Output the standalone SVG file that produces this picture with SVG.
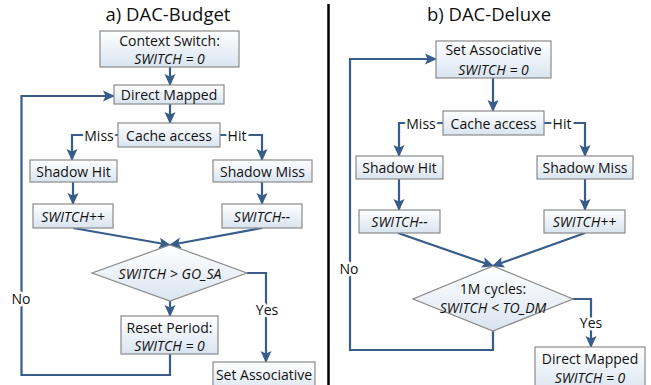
<svg xmlns="http://www.w3.org/2000/svg" width="651" height="385" viewBox="0 0 651 385">
  <defs>
    <linearGradient id="boxFill" x1="0" y1="0" x2="0" y2="1">
      <stop offset="0" stop-color="#ffffff"/>
      <stop offset="1" stop-color="#d9e4f0"/>
    </linearGradient>
    <marker id="arrow" markerUnits="userSpaceOnUse" markerWidth="12" markerHeight="12" viewBox="0 0 12 12" refX="11" refY="6" orient="auto">
      <path d="M0,0.5 L12,6 L0,11.5 L2.5,6 Z" fill="#385d8a"/>
    </marker>
    <style>
      .box { fill: url(#boxFill); stroke: #8a8a8a; stroke-width: 1.2; }
      .dia { fill: url(#boxFill); stroke: #8a8a8a; stroke-width: 1.2; }
      .t { font-family: "Open Sans", "Liberation Sans", sans-serif; font-size: 14px; fill: #111; text-anchor: middle; dominant-baseline: central; }
      .i { font-style: italic; }
      .title { font-family: "Open Sans", "Liberation Sans", sans-serif; font-size: 18.5px; fill: #111; text-anchor: middle; }
      .lbl { font-family: "Open Sans", "Liberation Sans", sans-serif; font-size: 14px; fill: #111; text-anchor: middle; dominant-baseline: central; stroke: #ffffff; stroke-width: 5; paint-order: stroke; stroke-linejoin: round; }
      .c { fill: none; stroke: #385d8a; stroke-width: 2.2; }
    </style>
  </defs>

  <rect width="651" height="385" fill="#ffffff"/>

  <!-- panel divider -->
  <line x1="328.5" y1="4" x2="328.5" y2="385" stroke="#000" stroke-width="2.5"/>

  <!-- titles -->
  <text class="title" x="168" y="21">a) DAC-Budget</text>
  <text class="title" x="489" y="21">b) DAC-Deluxe</text>

  <!-- connectors -->
  <g id="connectors">
    <!-- a) DAC-Budget -->
    <path class="c" d="M170,67 V85" marker-end="url(#arrow)"/>
    <path class="c" d="M170,104 V123" marker-end="url(#arrow)"/>
    <path class="c" d="M118,135 H72 V160" marker-end="url(#arrow)"/>
    <path class="c" d="M220,135 H262 V160" marker-end="url(#arrow)"/>
    <path class="c" d="M73,182 V204" marker-end="url(#arrow)"/>
    <path class="c" d="M262,182 V204" marker-end="url(#arrow)"/>
    <path class="c" d="M73,228 L170,245" marker-end="url(#arrow)"/>
    <path class="c" d="M262,228 L170,245" marker-end="url(#arrow)"/>
    <path class="c" d="M170,301 V316" marker-end="url(#arrow)"/>
    <path class="c" d="M247,273 H266 V362" marker-end="url(#arrow)"/>
    <path class="c" d="M170,354 V375 H21.5 V96 H114" marker-end="url(#arrow)"/>
    <text class="lbl" x="99" y="135">Miss</text>
    <text class="lbl" x="237" y="135">Hit</text>
    <text class="lbl" x="267" y="309">Yes</text>
    <text class="lbl" x="21" y="298">No</text>

    <!-- b) DAC-Deluxe -->
    <path class="c" d="M493,78 V111" marker-end="url(#arrow)"/>
    <path class="c" d="M443,123 H399 V156" marker-end="url(#arrow)"/>
    <path class="c" d="M544,123 H585 V156" marker-end="url(#arrow)"/>
    <path class="c" d="M399,179 V210" marker-end="url(#arrow)"/>
    <path class="c" d="M585,179 V210" marker-end="url(#arrow)"/>
    <path class="c" d="M398,233 L493,266" marker-end="url(#arrow)"/>
    <path class="c" d="M585,233 L493,266" marker-end="url(#arrow)"/>
    <path class="c" d="M573,299 H591 V347" marker-end="url(#arrow)"/>
    <path class="c" d="M493,331 V350 H350 V59 H436" marker-end="url(#arrow)"/>
    <text class="lbl" x="421" y="123">Miss</text>
    <text class="lbl" x="562" y="123">Hit</text>
    <text class="lbl" x="591" y="322">Yes</text>
    <text class="lbl" x="349" y="268">No</text>
  </g>

  <!-- a) DAC-Budget nodes -->
  <g id="a-context-switch">
    <rect class="box" x="100" y="31" width="139" height="36"/>
    <text class="t" x="169.5" y="40.5">Context Switch:</text>
    <text class="t i" x="169.5" y="58">SWITCH = 0</text>
  </g>
  <g id="a-direct-mapped">
    <rect class="box" x="114" y="85" width="110" height="19"/>
    <text class="t" x="169" y="94.5">Direct Mapped</text>
  </g>
  <g id="a-cache-access">
    <rect class="box" x="118" y="123" width="102" height="24"/>
    <text class="t" x="169" y="135">Cache access</text>
  </g>
  <g id="a-shadow-hit">
    <rect class="box" x="30" y="160" width="87" height="22"/>
    <text class="t" x="73.5" y="171">Shadow Hit</text>
  </g>
  <g id="a-shadow-miss">
    <rect class="box" x="213" y="160" width="99" height="22"/>
    <text class="t" x="262.5" y="171">Shadow Miss</text>
  </g>
  <g id="a-switch-inc">
    <rect class="box" x="33" y="204" width="80" height="24"/>
    <text class="t i" x="73" y="216">SWITCH++</text>
  </g>
  <g id="a-switch-dec">
    <rect class="box" x="222" y="204" width="80" height="24"/>
    <text class="t i" x="262" y="216">SWITCH--</text>
  </g>
  <g id="a-decision">
    <polygon class="dia" points="170,245 247,273 170,301 92,273"/>
    <text class="t i" x="170" y="273">SWITCH &gt; GO_SA</text>
  </g>
  <g id="a-reset-period">
    <rect class="box" x="121" y="316" width="97" height="38"/>
    <text class="t" x="169.5" y="327">Reset Period:</text>
    <text class="t i" x="169.5" y="345">SWITCH = 0</text>
  </g>
  <g id="a-set-associative">
    <rect class="box" x="213" y="362" width="102" height="30"/>
    <text class="t" x="264" y="374">Set Associative</text>
  </g>

  <!-- b) DAC-Deluxe nodes -->
  <g id="b-set-associative">
    <rect class="box" x="436" y="41" width="115" height="37"/>
    <text class="t" x="493.5" y="49.5">Set Associative</text>
    <text class="t i" x="493.5" y="69">SWITCH = 0</text>
  </g>
  <g id="b-cache-access">
    <rect class="box" x="443" y="111" width="101" height="24"/>
    <text class="t" x="493.5" y="123">Cache access</text>
  </g>
  <g id="b-shadow-hit">
    <rect class="box" x="356" y="156" width="87" height="23"/>
    <text class="t" x="399.5" y="167.5">Shadow Hit</text>
  </g>
  <g id="b-shadow-miss">
    <rect class="box" x="537" y="156" width="96" height="23"/>
    <text class="t" x="585" y="167.5">Shadow Miss</text>
  </g>
  <g id="b-switch-dec">
    <rect class="box" x="359" y="210" width="81" height="23"/>
    <text class="t i" x="399.5" y="221.5">SWITCH--</text>
  </g>
  <g id="b-switch-inc">
    <rect class="box" x="544" y="210" width="81" height="23"/>
    <text class="t i" x="584.5" y="221.5">SWITCH++</text>
  </g>
  <g id="b-decision">
    <polygon class="dia" points="493,266 573,299 493,331 413,299"/>
    <text class="t" x="493" y="288">1M cycles:</text>
    <text class="t i" x="493" y="307">SWITCH &lt; TO_DM</text>
  </g>
  <g id="b-direct-mapped">
    <rect class="box" x="535" y="347" width="110" height="45"/>
    <text class="t" x="590" y="358">Direct Mapped</text>
    <text class="t i" x="590" y="377">SWITCH = 0</text>
  </g>
</svg>
